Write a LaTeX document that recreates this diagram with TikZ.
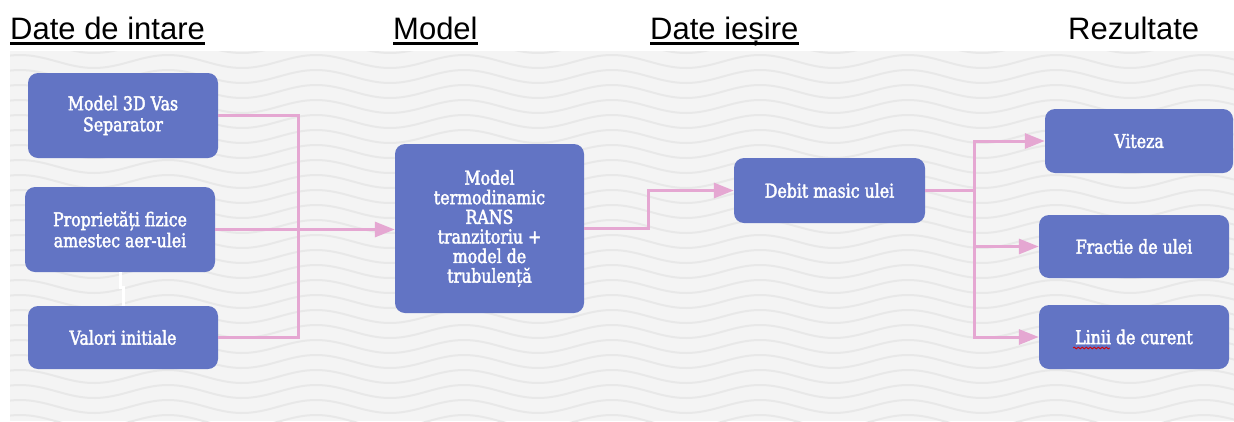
\documentclass[tikz,border=0pt]{standalone}
\usepackage{fontspec}
\setmainfont{DejaVu Serif}
\newfontfamily\boxfont[FakeStretch=0.83, FakeBold=2.2]{DejaVu Serif}
\newfontfamily\hdrfont{Liberation Sans}
\usetikzlibrary{arrows.meta,decorations.pathmorphing}
\definecolor{boxblue}{RGB}{98,116,196}
\definecolor{conpink}{RGB}{229,167,210}
\definecolor{panelgray}{RGB}{244,244,244}
\definecolor{wavegray}{RGB}{232,232,232}
\begin{document}
\begin{tikzpicture}[x=1pt,y=-1pt,
 box/.style={draw=none, fill=boxblue, rounded corners=10pt, text=white, align=center,
   font=\boxfont\fontsize{19}{21}\selectfont, inner sep=0pt},
 conn/.style={draw=conpink, line width=3pt},
 arr/.style={conn, -{Triangle[length=20pt,width=15pt]}},
 hdr/.style={font=\hdrfont\fontsize{31}{36}\selectfont, inner sep=0pt, anchor=base west},
 uline/.style={line width=3pt, black},
]
\useasboundingbox (0,0) rectangle (1234,421);
\fill[panelgray] (10,51) rectangle (1234,421);
\begin{scope}
\clip (10,51) rectangle (1234,421);
\foreach \k in {3,...,28} {
  \draw[wavegray, line width=2pt] plot[domain=0:1234, samples=170, smooth]
     (\x, {1.5+15*\k - 6.5*cos(2.4324*(\x-20))});
}
\end{scope}

% headers
\node[hdr] (h1) at (10,39) {Date de intare};
\draw[uline] ([yshift=-4.3pt]h1.base west) -- ([yshift=-4.3pt]h1.base east);
\node[hdr] (h2) at (393,39) {Model};
\draw[uline] ([yshift=-4.3pt]h2.base west) -- ([yshift=-4.3pt]h2.base east);
\node[hdr] (h3) at (650,39) {Date ieșire};
\draw[uline] ([yshift=-4.3pt]h3.base west) -- ([yshift=-4.3pt]h3.base east);
\node[hdr] (h4) at (1068,39) {Rezultate};

% boxes
\node[box, minimum width=190pt, minimum height=85pt] (b1) at (123,115.5) {Model 3D Vas\\Separator};
\node[box, minimum width=190pt, minimum height=85pt] (b2) at (120,229.5) {Proprietăți fizice\\amestec aer-ulei};
\node[box, minimum width=190pt, minimum height=63pt] (b3) at (123,337.5) {Valori initiale};
\node[box, minimum width=189pt, minimum height=169pt, font=\boxfont\fontsize{19}{19.6}\selectfont] (mid) at (489.5,228.5)
  {Model\\termodinamic\\RANS\\tranzitoriu +\\model de\\trubulență};
\node[box, minimum width=191pt, minimum height=65pt] (deb) at (829.5,190.5) {Debit masic ulei};
\node[box, minimum width=188pt, minimum height=64pt] (vit) at (1139,141) {Viteza};
\node[box, minimum width=190pt, minimum height=63pt] (fra) at (1134,246.5) {Fractie de ulei};
\node[box, minimum width=190pt, minimum height=64pt] (lin) at (1134,337) {Linii de curent};

% spell-check squiggle under "Linii"
\draw[red!85!black, line width=0.8pt, decorate, decoration={snake, segment length=4pt, amplitude=0.9pt}]
  (1073,348) -- (1110,348);

% white connector between b2 and b3
\draw[white, line width=3pt] (b2.south) -- ++(0,15) -| (b3.north);

% connectors
\coordinate (j1) at (298,229);
\draw[conn] (b1.east) -| (j1);
\draw[conn] (b3.east) -| (j1);
\draw[arr] (b2.east) -- (b2.east -| mid.west);
\draw[arr] (mid.east) -- ++(64,0) |- (deb.west);
\coordinate (j2) at (974,190.5);
\draw[conn] (deb.east) -- (j2);
\draw[arr] (j2) |- (vit.west);
\draw[arr] (j2) |- (fra.west);
\draw[arr] (j2) |- (lin.west);
\end{tikzpicture}
\end{document}
